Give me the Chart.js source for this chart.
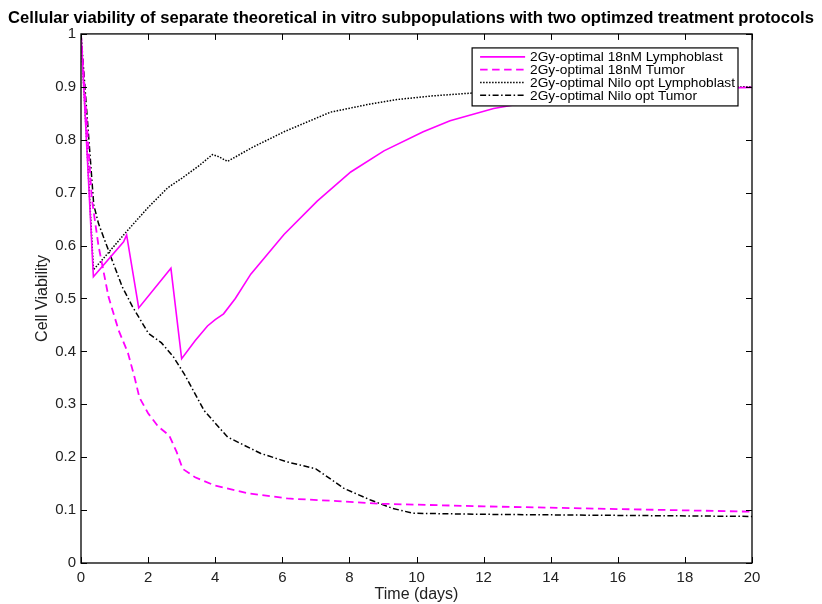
<!DOCTYPE html>
<html><head><meta charset="utf-8">
<script src="https://cdn.jsdelivr.net/npm/chart.js@4.4.1/dist/chart.umd.min.js"></script>
<style>html,body{margin:0;padding:0;background:#fff}#wrap{width:822px;height:604px}</style>
</head><body><div id="wrap"><canvas id="c" width="822" height="604"></canvas></div>
<script>
const titleText = 'Cellular viability of separate theoretical in vitro subpopulations with two optimzed treatment protocols';
const xTitle = 'Time (days)';
const yTitle = 'Cell Viability';
const xTicks = [0, 2, 4, 6, 8, 10, 12, 14, 16, 18, 20];
const yTicks = [0, 0.1, 0.2, 0.3, 0.4, 0.5, 0.6, 0.7, 0.8, 0.9, 1];
const seriesLabels = [
  '2Gy-optimal 18nM Lymphoblast',
  '2Gy-optimal 18nM Tumor',
  '2Gy-optimal Nilo opt Lymphoblast',
  '2Gy-optimal Nilo opt Tumor'
];

// 2Gy-optimal 18nM Lymphoblast
const lymph18T = [0, 0.37, 1.27, 1.36, 1.72, 2.68, 3.0, 3.4, 3.77, 4.0, 4.25, 4.6, 5.06, 6.05, 7.04, 8.04, 9.03, 10.2, 11.0, 12.3, 14, 16, 18, 20];
const lymph18V = [1.0, 0.541, 0.607, 0.62, 0.482, 0.557, 0.386, 0.42, 0.448, 0.46, 0.471, 0.5, 0.546, 0.621, 0.684, 0.739, 0.779, 0.815, 0.836, 0.859, 0.878, 0.89, 0.896, 0.899];

// 2Gy-optimal 18nM Tumor
const tumor18T = [0, 0.32, 0.52, 0.82, 1.12, 1.4, 1.6, 1.74, 2.0, 2.3, 2.63, 2.85, 3.03, 3.4, 3.97, 4.96, 6.15, 7.64, 8.93, 12, 16, 20];
const tumor18V = [1.0, 0.69, 0.6, 0.503, 0.44, 0.397, 0.35, 0.313, 0.283, 0.258, 0.241, 0.21, 0.178, 0.162, 0.147, 0.132, 0.122, 0.117, 0.112, 0.107, 0.102, 0.097];

// 2Gy-optimal Nilo opt Lymphoblast
const lymphNiloT = [0, 0.37, 1.0, 1.31, 2.0, 2.58, 3.0, 3.5, 3.92, 4.1, 4.37, 5.06, 6.05, 7.43, 8.5, 9.42, 10.5, 11.6, 13, 15, 17, 20];
const lymphNiloV = [1.0, 0.554, 0.6, 0.623, 0.672, 0.709, 0.727, 0.75, 0.772, 0.768, 0.759, 0.784, 0.815, 0.852, 0.866, 0.876, 0.883, 0.888, 0.893, 0.897, 0.899, 0.90];

// 2Gy-optimal Nilo opt Tumor
const tumorNiloT = [0, 0.38, 0.52, 0.93, 1.23, 1.53, 2.01, 2.4, 2.75, 3.08, 3.67, 4.37, 5.36, 6.15, 7.0, 7.84, 8.63, 9.3, 9.9, 12, 16, 20];
const tumorNiloV = [1.0, 0.677, 0.642, 0.572, 0.522, 0.485, 0.434, 0.416, 0.39, 0.357, 0.288, 0.238, 0.207, 0.191, 0.178, 0.141, 0.119, 0.103, 0.094, 0.092, 0.09, 0.088];

const toPts = (T, V) => T.map((t, i) => ({x: t, y: V[i]}));

const FONT = '"Liberation Sans", Arial, Helvetica, sans-serif';
Chart.defaults.font.family = FONT;

const frameTicks = {
  id: 'frameTicks',
  afterDraw(chart) {
    const {ctx, chartArea: a, scales: {x, y}} = chart;
    ctx.save();
    ctx.strokeStyle = '#000';
    ctx.lineWidth = 1;
    ctx.beginPath();
    x.ticks.forEach(t => {
      const px = Math.round(x.getPixelForValue(t.value)) + 0.5;
      ctx.moveTo(px, a.bottom); ctx.lineTo(px, a.bottom - 6);
      ctx.moveTo(px, a.top); ctx.lineTo(px, a.top + 6);
    });
    y.ticks.forEach(t => {
      const py = Math.round(y.getPixelForValue(t.value)) + 0.5;
      ctx.moveTo(a.left, py); ctx.lineTo(a.left + 6, py);
      ctx.moveTo(a.right, py); ctx.lineTo(a.right - 6, py);
    });
    ctx.stroke();
    ctx.lineWidth = 1.3;
    ctx.strokeRect(a.left, a.top, a.right - a.left, a.bottom - a.top);
    ctx.restore();
  }
};

const legendBox = {
  id: 'legendBox',
  afterDatasetsDraw(chart) {
    const ctx = chart.ctx, a = chart.chartArea;
    const ds = chart.data.datasets;
    ctx.save();
    ctx.font = '13.7px ' + FONT;
    const tw = Math.max(...ds.map(d => ctx.measureText(d.label).width));
    const w = 8 + 45 + 5 + tw + 3, h = 58;
    const right = a.right - 14, top = a.top + 14, left = right - w;
    ctx.fillStyle = '#fff';
    ctx.fillRect(left, top, w, h);
    ctx.strokeStyle = '#000';
    ctx.lineWidth = 1.2;
    ctx.strokeRect(left, top, w, h);
    ds.forEach((d, i) => {
      const yy = top + 9 + i * 12.8;
      ctx.beginPath();
      ctx.setLineDash(d.borderDash || []);
      ctx.strokeStyle = d.borderColor;
      ctx.lineWidth = d.borderWidth;
      ctx.moveTo(left + 8, yy); ctx.lineTo(left + 53, yy);
      ctx.stroke();
      ctx.setLineDash([]);
      ctx.fillStyle = '#000';
      ctx.textBaseline = 'middle';
      ctx.fillText(d.label, left + 58, yy + 0.5);
    });
    ctx.restore();
  }
};

new Chart(document.getElementById('c'), {
  type: 'line',
  data: {
    datasets: [
      {label: seriesLabels[0], data: toPts(lymph18T, lymph18V), borderColor: '#ff00ff', borderWidth: 1.6, borderDash: []},
      {label: seriesLabels[1], data: toPts(tumor18T, tumor18V), borderColor: '#ff00ff', borderWidth: 1.8, borderDash: [7.5, 4.5]},
      {label: seriesLabels[2], data: toPts(lymphNiloT, lymphNiloV), borderColor: '#000000', borderWidth: 1.5, borderDash: [1.5, 1.5]},
      {label: seriesLabels[3], data: toPts(tumorNiloT, tumorNiloV), borderColor: '#000000', borderWidth: 1.5, borderDash: [6, 2.5, 1.5, 2.5]}
    ]
  },
  options: {
    responsive: false,
    animation: false,
    devicePixelRatio: 1,
    layout: {padding: {left: 0, right: 0, top: 0, bottom: 0}},
    elements: {line: {tension: 0, fill: false}, point: {radius: 0}},
    plugins: {
      legend: {display: false},
      tooltip: {enabled: false},
      title: {display: true, text: titleText, color: '#000', font: {size: 16.6, weight: 'bold'}, padding: {top: 8, bottom: 6}}
    },
    scales: {
      x: {
        type: 'linear', min: 0, max: 20,
        afterBuildTicks: s => { s.ticks = xTicks.map(v => ({value: v})); },
        afterFit: s => { s.height = 41; },
        grid: {display: false, drawTicks: false},
        border: {display: false},
        ticks: {color: '#222', font: {size: 15}, padding: 6, maxRotation: 0, callback: v => String(v)},
        title: {display: true, text: xTitle, color: '#222', font: {size: 16}, padding: {top: 0, bottom: 0}}
      },
      y: {
        type: 'linear', min: 0, max: 1,
        afterBuildTicks: s => { s.ticks = yTicks.map(v => ({value: v})); },
        afterFit: s => { s.width = 81; },
        grid: {display: false, drawTicks: false},
        border: {display: false},
        ticks: {color: '#222', font: {size: 15}, padding: 5, callback: v => String(Number(v.toFixed(1)))},
        title: {display: true, text: yTitle, color: '#222', font: {size: 16}, padding: {top: 33, bottom: 0}}
      },
      yRight: {
        type: 'linear', position: 'right', min: 0, max: 1,
        afterFit: s => { s.width = 70; },
        grid: {display: false, drawTicks: false},
        border: {display: false},
        ticks: {display: false}
      }
    }
  },
  plugins: [frameTicks, legendBox]
});
</script>
</body></html>
